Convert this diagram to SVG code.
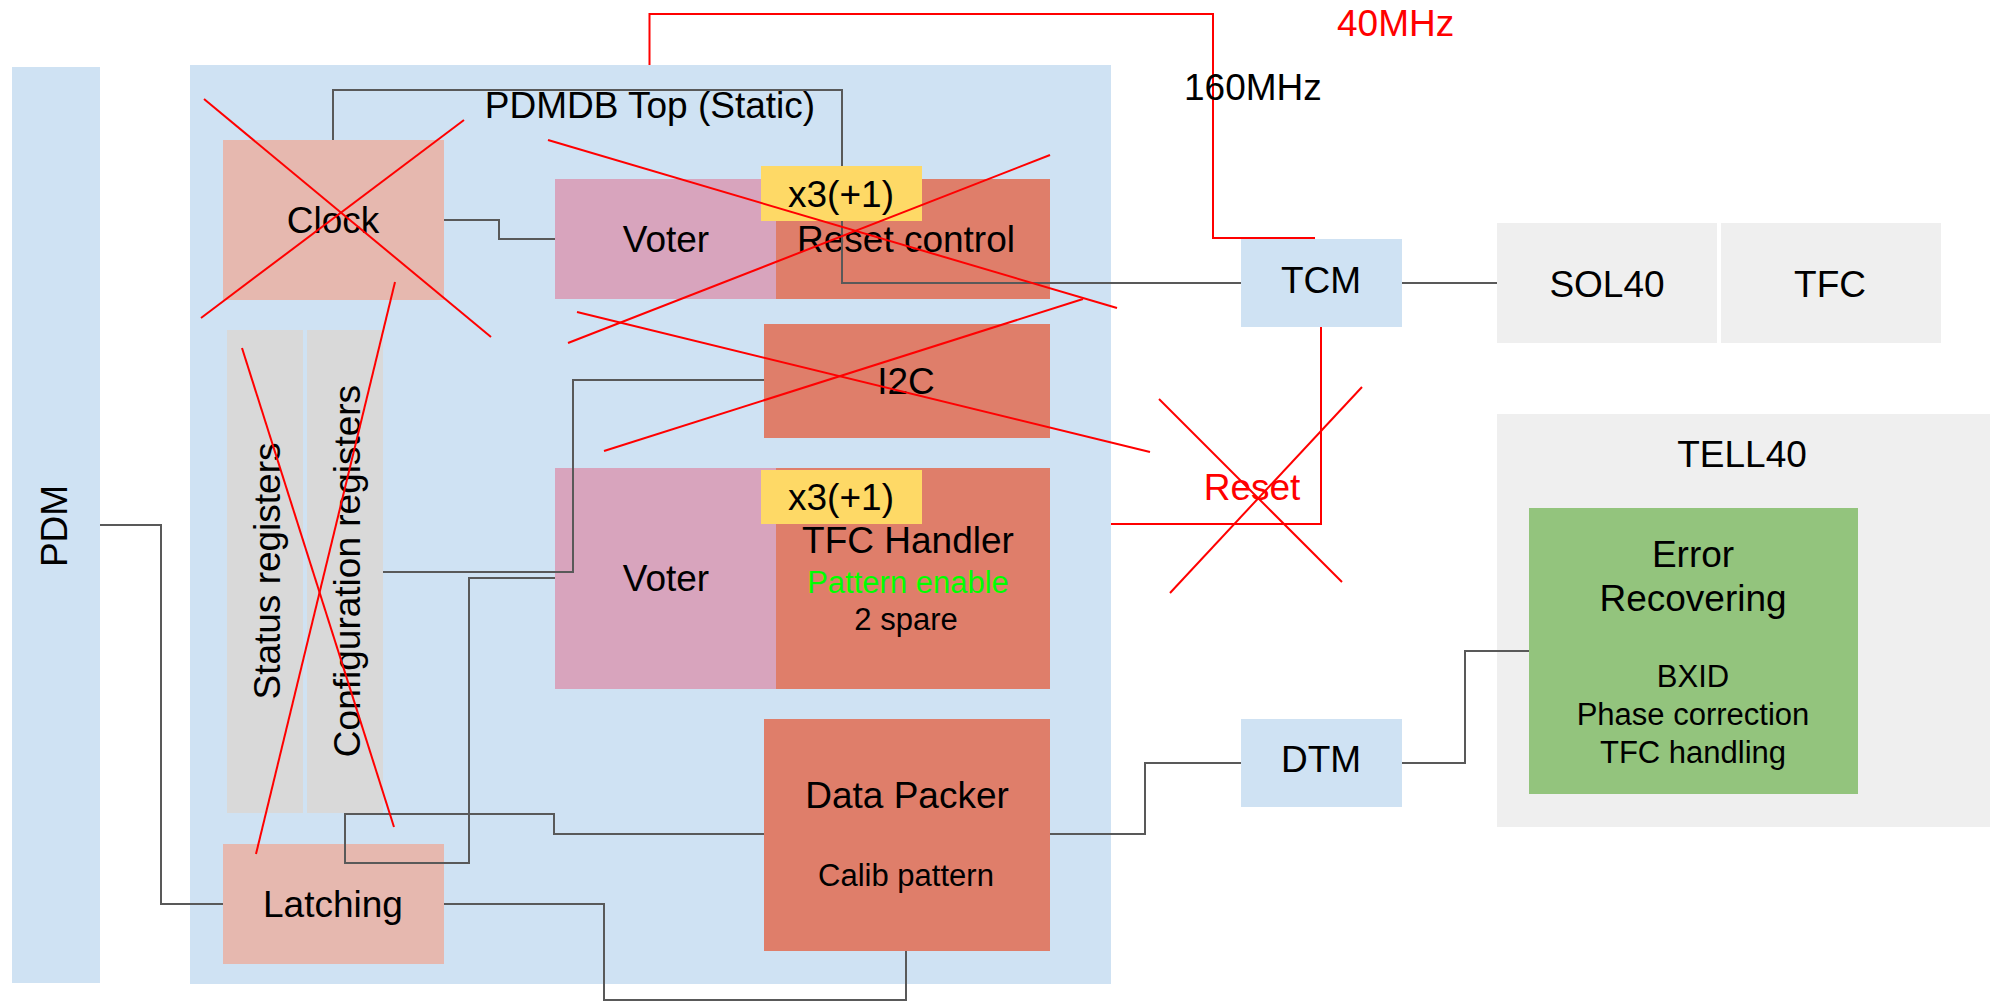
<svg xmlns="http://www.w3.org/2000/svg" width="1994" height="1002" viewBox="0 0 1994 1002">
<style>
text{font-family:"Liberation Sans",Arial,sans-serif;font-size:37px;fill:#000;text-anchor:middle}
.sub{font-size:31px}
.st{text-anchor:start}
.blue{fill:#cfe2f3}
.pink{fill:#e6b8af}
.voter{fill:#d8a4bd}
.org{fill:#df7e6a}
.yel{fill:#fed966}
.gray{fill:#d9d9d9}
.lgray{fill:#efefef}
.green{fill:#93c47d}
.wire{fill:none;stroke:#595959;stroke-width:2}
.rwire{fill:none;stroke:#ff0000;stroke-width:2}
.strike line{stroke:#ff0000;stroke-width:2}
</style>
<rect width="1994" height="1002" fill="#fff"/>

<g id="pdm"><rect class="blue" x="12" y="67" width="88" height="916"/><text transform="translate(67,526) rotate(-90)">PDM</text></g>
<g id="pdmdb"><rect class="blue" x="190" y="65" width="921" height="919"/><text x="650" y="118">PDMDB Top (Static)</text></g>
<g id="clock"><rect class="pink" x="223" y="140" width="221" height="160"/><text x="333" y="233">Clock</text></g>
<g id="status-registers"><rect class="gray" x="227" y="330" width="76" height="483"/><text transform="translate(280,571) rotate(-90)">Status registers</text></g>
<g id="configuration-registers"><rect class="gray" x="307" y="330" width="76" height="483"/><text transform="translate(360,571) rotate(-90)">Configuration registers</text></g>
<g id="latching"><rect class="pink" x="223" y="844" width="221" height="120"/><text x="333" y="917">Latching</text></g>
<g id="voter-1"><rect class="voter" x="555" y="179" width="221" height="120"/><text x="666" y="252">Voter</text></g>
<g id="reset-control"><rect class="org" x="776" y="179" width="274" height="120"/><text x="906" y="252">Reset control</text></g>
<g id="i2c"><rect class="org" x="764" y="324" width="286" height="114"/><text x="906" y="394">I2C</text></g>
<g id="voter-2"><rect class="voter" x="555" y="468" width="221" height="221"/><text x="666" y="591">Voter</text></g>
<g id="tfc-handler"><rect class="org" x="776" y="468" width="274" height="221"/><text x="908" y="553">TFC Handler</text><text class="sub" x="908" y="593" style="fill:#00ff00">Pattern enable</text><text class="sub" x="906" y="630">2 spare</text></g>
<g id="data-packer"><rect class="org" x="764" y="719" width="286" height="232"/><text x="907" y="808">Data Packer</text><text class="sub" x="906" y="886">Calib pattern</text></g>
<g id="tcm"><rect class="blue" x="1241" y="239" width="161" height="88"/><text x="1321" y="293">TCM</text></g>
<g id="dtm"><rect class="blue" x="1241" y="719" width="161" height="88"/><text x="1321" y="772">DTM</text></g>
<g id="sol40"><rect class="lgray" x="1497" y="223" width="220" height="120"/><text x="1607" y="297">SOL40</text></g>
<g id="tfc"><rect class="lgray" x="1721" y="223" width="220" height="120"/><text x="1830" y="297">TFC</text></g>
<g id="tell40"><rect class="lgray" x="1497" y="414" width="493" height="413"/><text x="1742" y="467">TELL40</text></g>
<g id="error-recovering"><rect class="green" x="1529" y="508" width="329" height="286"/><text x="1693" y="567">Error</text><text x="1693" y="611">Recovering</text><text class="sub" x="1693" y="687">BXID</text><text class="sub" x="1693" y="725">Phase correction</text><text class="sub" x="1693" y="763">TFC handling</text></g>

<g id="connectors">
<path class="wire" d="M333,140 V90 H842 V283 H1241"/>
<path class="wire" d="M444,220 H499 V239 H555"/>
<path class="wire" d="M1402,283 H1497"/>
<path class="wire" d="M100,525 H161 V904 H223"/>
<path class="wire" d="M383,572 H573 V380 H764"/>
<path class="wire" d="M555,578 H469 V863 H345 V814 H554 V834 H764"/>
<path class="wire" d="M444,904 H604 V1000 H906 V951"/>
<path class="wire" d="M1050,834 H1145 V763 H1241"/>
<path class="wire" d="M1402,763 H1465 V651 H1529"/>
<path class="rwire" d="M649.5,65 V14 H1213 V238 H1315"/>
<path class="rwire" d="M1321,327 V524 H1111"/>
</g>

<g id="badge-1"><rect class="yel" x="761" y="166" width="161" height="55"/><text x="841" y="207">x3(+1)</text></g>
<g id="badge-2"><rect class="yel" x="761" y="470" width="161" height="54"/><text x="841" y="510">x3(+1)</text></g>

<g id="labels">
<text class="st" x="1337" y="36" style="fill:#ff0000">40MHz</text>
<text class="st" x="1184" y="100">160MHz</text>
<text x="1252" y="500" style="fill:#ff0000">Reset</text>
</g>

<g class="strike" id="strikes">
<line x1="204" y1="99" x2="491" y2="337"/>
<line x1="201" y1="318" x2="464" y2="120"/>
<line x1="548" y1="140" x2="1117" y2="308"/>
<line x1="1050" y1="155" x2="568" y2="343"/>
<line x1="577" y1="312" x2="1150" y2="452"/>
<line x1="1083" y1="299" x2="604" y2="451"/>
<line x1="242" y1="348" x2="394" y2="827"/>
<line x1="395" y1="282" x2="256" y2="854"/>
<line x1="1159" y1="399" x2="1342" y2="582"/>
<line x1="1362" y1="387" x2="1170" y2="593"/>
</g>
</svg>
